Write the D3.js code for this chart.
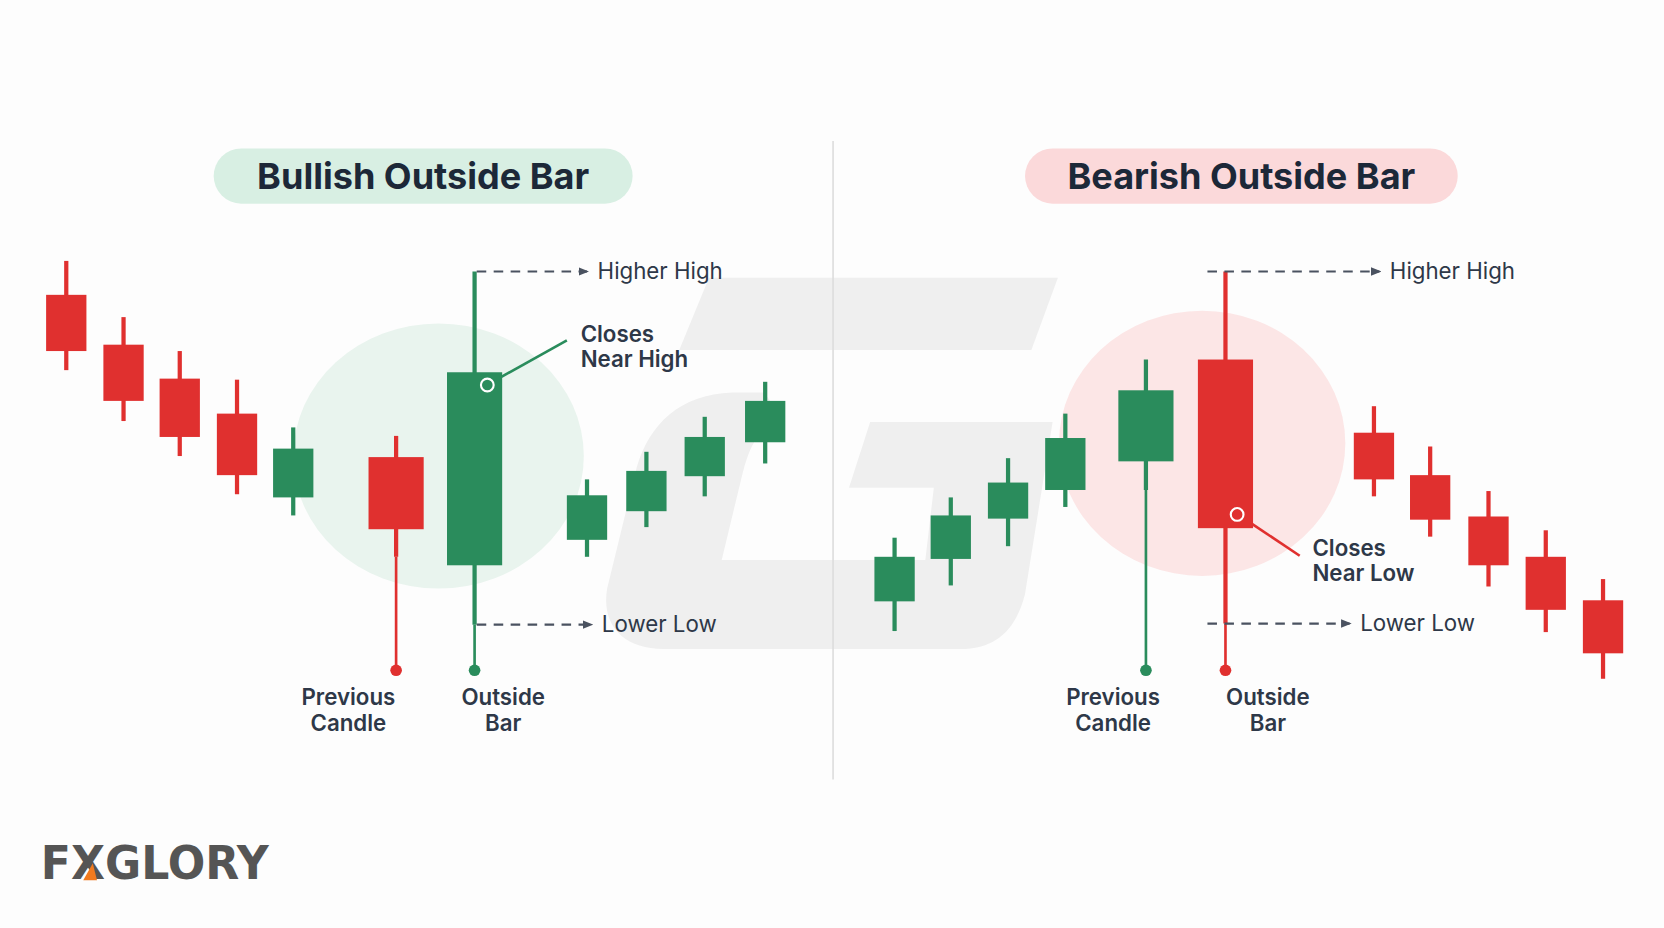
<!DOCTYPE html>
<html><head><meta charset="utf-8">
<script src="https://cdn.jsdelivr.net/npm/d3@7"></script>
<style>body{margin:0;background:#fdfdfd}svg{display:block}</style></head>
<body><svg id="c" width="1664" height="928" viewBox="0 0 1568 875"></svg>
<script>
// left panel (bullish outside bar)
const leftX    = [62,116,169,223,276,373,447,553,609,664,721];
const leftOpen = [422,375,343,310,231,269,167,191,218,251,283];
const leftHigh = [454,401,369,342,297,289,444,248,274,307,340];
const leftLow  = [351,303,270,234,214,175,111,175,203,232,263];
const leftClose= [369,322,288,252,277,201,349,233,256,288,322];
const leftBig  = [5,6]; // previous candle, outside bar
// right panel (bearish outside bar)
const rightX    = [843,896,950,1004,1080,1155,1295,1348,1403,1457,1511];
const rightOpen = [133,173,211,238,265,361,292,252,213,175,134];
const rightHigh = [193,231,268,310,361,444,317,279,237,200,154];
const rightLow  = [105,148,185,222,238,112,232,194,147,104,60];
const rightClose= [175,214,245,287,332,202,248,210,167,125,84];
const rightBig  = [4,5];
const dotLevel = 68;
const titles = ["Bullish Outside Bar","Bearish Outside Bar"];
const labelsBottom = [["Previous","Candle"],["Outside","Bar"]];

const svg = d3.select("#c");
const y = d3.scaleLinear().domain([0,700]).range([700,0]);
const x = d3.scaleLinear().domain([0,1568]).range([0,1568]);
const RED="#e0302f", GREEN="#2a8c5c", INK="#1c2838", GREY="#2e3848";
const FONT="Inter, 'Open Sans', sans-serif";

svg.append("rect").attr("width",1568).attr("height",875).attr("fill","#fdfdfd");
const wm = svg.append("g").attr("fill","#efefef");
wm.append("path").attr("d","M668,262 L997,262 L972,330 L640,330 Z");
wm.append("path").attr("d","M720,370 L690,370 C640,372 612,400 600,440 L572,555 C566,590 588,612 625,612 L905,612 C940,612 958,592 966,560 L992,398 L820,398 L800,460 L880,460 L872,528 L680,528 L700,445 C708,415 718,400 740,398 Z");
svg.append("line").attr("x1",785).attr("x2",785).attr("y1",133).attr("y2",735).attr("stroke","#dcdcdc").attr("stroke-width",1.5);
svg.append("ellipse").attr("cx",413).attr("cy",430).attr("rx",137).attr("ry",125).attr("fill","#e9f4ee");
svg.append("ellipse").attr("cx",1133).attr("cy",418).attr("rx",135).attr("ry",125).attr("fill","#fce6e6");
[[201,596,"#d8efe3"],[966,1374,"#fbd9da"]].forEach(([a,b,f],i)=>{
  svg.append("rect").attr("x",a).attr("y",140).attr("width",b-a).attr("height",52).attr("rx",26).attr("fill",f);
  svg.append("text").attr("x",(a+b)/2).attr("y",178).attr("text-anchor","middle")
    .attr("font-family",FONT).attr("font-weight",700).attr("font-size",34).attr("fill",INK).text(titles[i]);
});
const defs = svg.append("defs");
defs.append("marker").attr("id","arr").attr("viewBox","0 0 10 10").attr("refX",8).attr("refY",5).attr("markerWidth",5).attr("markerHeight",5).attr("orient","auto")
  .append("path").attr("d","M0,1 L10,5 L0,9 Z").attr("fill","#4a5260");

function panel(xs,o,h,l,c,big2,offs){
  xs.forEach((cx,i)=>{
    const up = c[i]>o[i], col = up?GREEN:RED, big = big2.includes(i);
    const w = big?52:38;
    svg.append("line").attr("x1",x(cx)).attr("x2",x(cx)).attr("y1",y(h[i])).attr("y2",y(l[i])).attr("stroke",col).attr("stroke-width",4);
    if(big){
      svg.append("line").attr("x1",x(cx)).attr("x2",x(cx)).attr("y1",y(l[i])).attr("y2",y(dotLevel)).attr("stroke",col).attr("stroke-width",2.5);
      svg.append("circle").attr("cx",x(cx)).attr("cy",y(dotLevel)).attr("r",5.5).attr("fill",col);
    }
    const top=y(Math.max(o[i],c[i])), bot=y(Math.min(o[i],c[i]));
    svg.append("rect").attr("x",x(cx)-w/2).attr("y",top).attr("width",w).attr("height",bot-top).attr("fill",col);
  });
  big2.forEach((k,j)=>{
    labelsBottom[j].forEach((t,r)=>svg.append("text").attr("x",x(xs[k])+offs[j]).attr("y",665+r*24).attr("text-anchor","middle")
      .attr("font-family",FONT).attr("font-weight",600).attr("font-size",21).attr("fill",GREY).text(t));
  });
}
panel(leftX,leftOpen,leftHigh,leftLow,leftClose,leftBig,[-45,27]);
panel(rightX,rightOpen,rightHigh,rightLow,rightClose,rightBig,[-31,40]);

function dashed(x1,x2,yy,txt){
  svg.append("line").attr("x1",x1).attr("x2",x2).attr("y1",yy).attr("y2",yy).attr("stroke","#4a5260").attr("stroke-width",2).attr("stroke-dasharray","9,7").attr("marker-end","url(#arr)");
  svg.append("text").attr("x",x2+10).attr("y",yy+7).attr("font-family",FONT).attr("font-size",21).attr("fill",GREY).text(txt);
}
const lo=leftBig[1], ro=rightBig[1];
dashed(x(leftX[lo])+2,x(553),y(leftHigh[lo]),"Higher High");
dashed(x(leftX[lo])+2,x(557),y(leftLow[lo]),"Lower Low");
dashed(x(1138),x(1300),y(rightHigh[ro]),"Higher High");
dashed(x(1138),x(1272),y(rightLow[ro]),"Lower Low");

function callout(cx,cy,lx1,ly1,lx2,ly2,col,tx,ty,lines){
  svg.append("circle").attr("cx",cx).attr("cy",cy).attr("r",6).attr("fill","none").attr("stroke","#fff").attr("stroke-width",2);
  svg.append("line").attr("x1",lx1).attr("y1",ly1).attr("x2",lx2).attr("y2",ly2).attr("stroke",col).attr("stroke-width",2.5);
  lines.forEach((t,r)=>svg.append("text").attr("x",tx).attr("y",ty+r*24).attr("font-family",FONT).attr("font-weight",600).attr("font-size",21).attr("fill",GREY).text(t));
}
callout(x(459),y(leftClose[lo])+12,471,356,534,321,GREEN,547,322,["Closes","Near High"]);
callout(x(1166),y(rightClose[ro])-13,1180,494,1225,524,RED,1237,524,["Closes","Near Low"]);

svg.append("text").attr("x",38).attr("y",829).attr("font-family","'DejaVu Sans', sans-serif").attr("font-weight",700).attr("font-size",44).attr("fill","#555").attr("textLength",215).attr("lengthAdjust","spacingAndGlyphs").text("FXGLORY");
svg.append("path").attr("d","M78,830 L87,814 L91,830 Z").attr("fill","#f07a20");
</script></body></html>
